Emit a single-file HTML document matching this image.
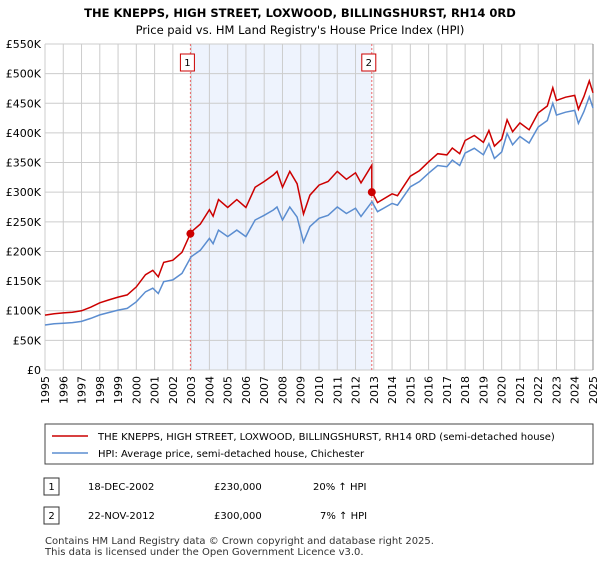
<!DOCTYPE html>
<html><head><meta charset="utf-8"><style>
body{margin:0;background:#fff;font-family:"Liberation Sans","DejaVu Sans",sans-serif;}
svg text{font-family:"DejaVu Sans","Liberation Sans",sans-serif;}
</style></head><body>
<svg id="c" width="600" height="560" xmlns="http://www.w3.org/2000/svg">
<text x="300" y="17" text-anchor="middle" font-size="11.5" font-weight="bold">THE KNEPPS, HIGH STREET, LOXWOOD, BILLINGSHURST, RH14 0RD</text>
<text x="300" y="34" text-anchor="middle" font-size="11.5">Price paid vs. HM Land Registry's House Price Index (HPI)</text>
<g id="plot"></g>
<g>
<rect x="45" y="424" width="548" height="40" fill="#fff" stroke="#444"/>
<line x1="52" y1="436" x2="88" y2="436" stroke="#cc0000" stroke-width="1.6"/>
<text x="98" y="440" font-size="10">THE KNEPPS, HIGH STREET, LOXWOOD, BILLINGSHURST, RH14 0RD (semi-detached house)</text>
<line x1="52" y1="453" x2="88" y2="453" stroke="#5b8dd0" stroke-width="1.6"/>
<text x="98" y="457" font-size="10">HPI: Average price, semi-detached house, Chichester</text>
</g>
<g>
<rect x="44" y="478" width="15" height="17" fill="#fff" stroke="#333"/>
<text x="51.5" y="490" text-anchor="middle" font-size="10">1</text>
<text x="88" y="490" font-size="10">18-DEC-2002</text>
<text x="214" y="490" font-size="10">£230,000</text>
<text x="313" y="490" font-size="10">20% ↑ HPI</text>
<rect x="44" y="507" width="15" height="17" fill="#fff" stroke="#333"/>
<text x="51.5" y="519" text-anchor="middle" font-size="10">2</text>
<text x="88" y="519" font-size="10">22-NOV-2012</text>
<text x="214" y="519" font-size="10">£300,000</text>
<text x="320" y="519" font-size="10">7% ↑ HPI</text>
</g>
<text x="45" y="544" font-size="10" fill="#333">Contains HM Land Registry data © Crown copyright and database right 2025.</text>
<text x="45" y="555" font-size="10" fill="#333">This data is licensed under the Open Government Licence v3.0.</text>
</svg>
<script>
const hpiYears=[1995,1995.5,1996,1996.5,1997,1997.5,1998,1998.5,1999,1999.5,2000,2000.5,2000.9,2001.2,2001.5,2002,2002.5,2003,2003.5,2004,2004.2,2004.5,2005,2005.5,2006,2006.5,2007,2007.5,2007.7,2008,2008.4,2008.8,2009.15,2009.5,2010,2010.5,2011,2011.5,2012,2012.3,2012.9,2013.2,2014,2014.3,2015,2015.5,2016,2016.5,2017,2017.3,2017.7,2018,2018.5,2019,2019.3,2019.6,2020,2020.3,2020.6,2021,2021.5,2022,2022.5,2022.8,2023,2023.5,2024,2024.2,2024.5,2024.8,2025];
const hpiValues=[76,78,79,80,82,87,93,97,101,104,115,132,138,129,149,152,163,191,202,222,213,236,225,236,225,253,261,270,275,253,275,258,216,242,256,261,275,264,273,259,284,267,281,278,309,318,332,345,343,354,345,366,374,363,382,357,368,399,380,394,383,410,421,450,430,435,438,416,436,461,442];
const sales=[{year:2002.96,price:230,label:"1"},{year:2012.89,price:300,label:"2"}];
const yTicks=[0,50,100,150,200,250,300,350,400,450,500,550];
const yTickLabels=["£0","£50K","£100K","£150K","£200K","£250K","£300K","£350K","£400K","£450K","£500K","£550K"];
const xTicks=[1995,1996,1997,1998,1999,2000,2001,2002,2003,2004,2005,2006,2007,2008,2009,2010,2011,2012,2013,2014,2015,2016,2017,2018,2019,2020,2021,2022,2023,2024,2025];

const L=45,R=593,T=44,B=370;
const xS=y=>L+(y-1995)/30*(R-L);
const yS=v=>B-v/550*(B-T);
const ns="http://www.w3.org/2000/svg";
const g=document.getElementById('plot');
function mk(t,a){const e=document.createElementNS(ns,t);for(const k in a)e.setAttribute(k,a[k]);g.appendChild(e);return e;}
function hpiAt(y){for(let i=1;i<hpiYears.length;i++){if(y<=hpiYears[i]){const f=(y-hpiYears[i-1])/(hpiYears[i]-hpiYears[i-1]);return hpiValues[i-1]+f*(hpiValues[i]-hpiValues[i-1]);}}return hpiValues[hpiValues.length-1];}
// shading
let sh=mk('rect',{x:xS(sales[0].year),y:T,width:xS(sales[1].year)-xS(sales[0].year),height:B-T,fill:'#eef3fd'});


yTicks.forEach((v,i)=>{
 const l=mk('line',{x1:L,x2:R,y1:yS(v),y2:yS(v),stroke:'#cccccc'});
 
 
 const t=mk('text',{x:L-4,y:yS(v)+4,'text-anchor':'end','font-size':'11'});t.textContent=yTickLabels[i];
 
 
});
xTicks.forEach(y=>{
 const l=mk('line',{x1:xS(y),x2:xS(y),y1:T,y2:B,stroke:'#cccccc'});
 
 
 const t=mk('text',{x:0,y:0,'text-anchor':'end','font-size':'11',transform:`translate(${xS(y)+4},${B+6}) rotate(-90)`});t.textContent=y;
 
 
});
mk('line',{x1:R,x2:R,y1:T,y2:B,stroke:'#888'});
sales.forEach(s=>{
 const l=mk('line',{x1:xS(s.year),x2:xS(s.year),y1:T,y2:B,stroke:'#ee6666','stroke-dasharray':'2,2'});
 
 
 const r=mk('rect',{x:xS(s.year)-10,y:54,width:14,height:17,fill:'#fff',stroke:'#cc0000'});
 
 
 const t=mk('text',{x:xS(s.year)-3,y:66,'text-anchor':'middle','font-size':'10'});t.textContent=s.label;
 
 
});
// HPI line
const hp=hpiYears.map((y,i)=>`${xS(y).toFixed(1)},${yS(hpiValues[i]).toFixed(1)}`).join(' ');
const hl=mk('polyline',{points:hp,fill:'none',stroke:'#5b8dd0','stroke-width':1.5});


// property line: HPI-indexed from sales
const r1=sales[0].price/hpiAt(sales[0].year), r2=sales[1].price/hpiAt(sales[1].year);
const pts=[];
hpiYears.forEach((y,i)=>{
 if(y>sales[1].year && pts.length && hpiYears[i-1]<=sales[1].year){
  pts.push([sales[1].year,hpiAt(sales[1].year)*r1]);pts.push([sales[1].year,sales[1].price]);}
 pts.push([y,hpiValues[i]*(y<=sales[1].year?r1:r2)]);
});
const pl=mk('polyline',{points:pts.map(p=>`${xS(p[0]).toFixed(1)},${yS(p[1]).toFixed(1)}`).join(' '),fill:'none',stroke:'#cc0000','stroke-width':1.5});


sales.forEach(s=>{
 const c=mk('circle',{cx:xS(s.year),cy:yS(s.price),r:4,fill:'#cc0000'});
 
 
});
</script>
</body></html>
